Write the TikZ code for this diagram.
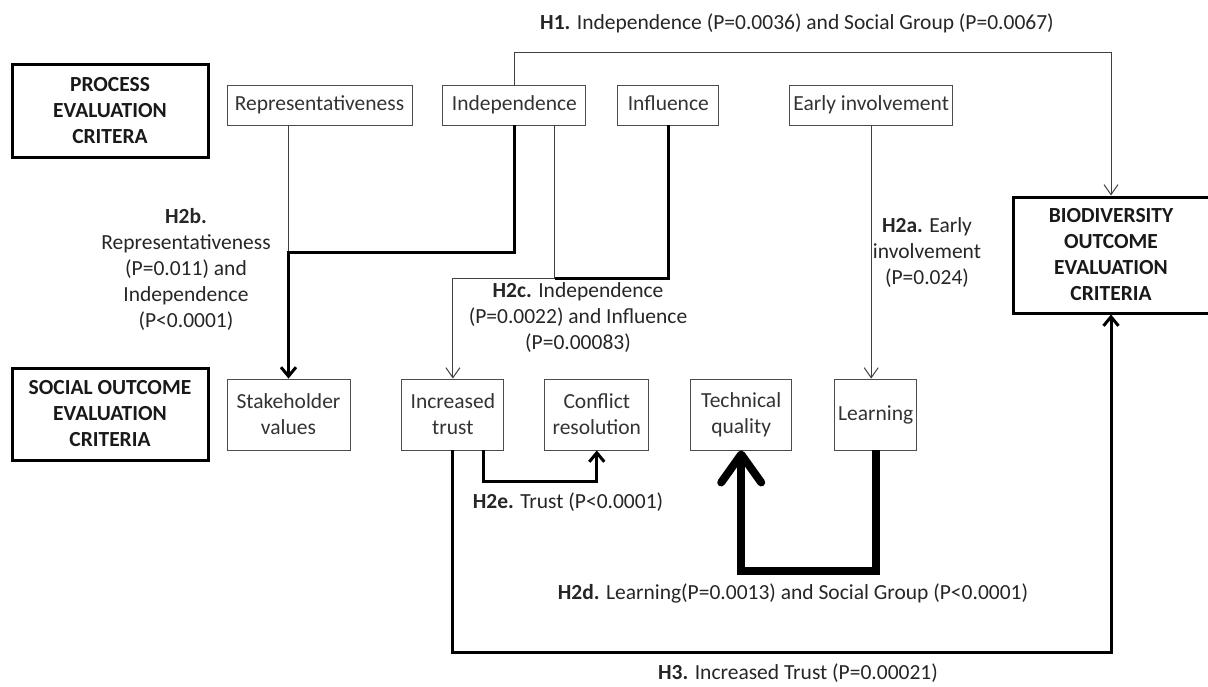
\documentclass[tikz,border=0pt]{standalone}
\usepackage{fontspec}
\setmainfont{Carlito}
\usetikzlibrary{positioning, arrows.meta, calc}

\begin{document}
\begin{tikzpicture}[
		x=1pt, y=-1pt,
		% Estilos de texto y cajas
		texto/.style={font=\fontsize{21.5}{26}\selectfont, text=black!80},
		caja_var/.style={texto, draw=black!70, line width=0.9pt, rectangle, inner sep=0pt, align=center},
		caja_fila/.style={caja_var, minimum height=40pt, text height=15pt, text depth=5pt},
		caja_crit/.style={draw=black, line width=3pt, rectangle, inner sep=0pt, align=center, minimum width=196pt, font=\fontsize{21.5}{26}\selectfont\bfseries, text=black!90},
		% Estilos de lineas y flechas
		linea_fina/.style={draw=black!75, line width=1pt},
		linea_gruesa/.style={draw=black, line width=3pt},
		linea_maxima/.style={draw=black, line width=8pt},
		flecha_fina/.style={linea_fina, -{Straight Barb[length=10pt, width=14pt]}},
		flecha_gruesa/.style={linea_gruesa, -{Straight Barb[length=9pt, width=15pt]}},
		flecha_maxima/.style={linea_maxima, -{Straight Barb[length=28pt, width=40pt, round]}},
		label_hip/.style={texto, align=center, inner sep=0pt, text=black!85}
		]
		\useasboundingbox (0,0) rectangle (1208,686);
		
		% --- CRITERIOS (COLUMNA IZQUIERDA Y DERECHA) ---
		\node[caja_crit, minimum height=93pt] (proceso) at (110,110.5) {PROCESS\\EVALUATION\\CRITERA};
		\node[caja_crit, minimum height=92pt] (social) at (110,414) {SOCIAL OUTCOME\\EVALUATION\\CRITERIA};
		\node[caja_crit, minimum height=116pt] (bio) at (1111,255) {BIODIVERSITY\\OUTCOME\\EVALUATION\\CRITERIA};
		
		% --- FILA SUPERIOR: CRITERIOS DE PROCESO ---
		\node[caja_fila, minimum width=185pt] (rep) at (319.5,105) {Representativeness};
		\node[caja_fila, minimum width=143pt, right=30pt of rep] (indep) {Independence};
		\node[caja_fila, minimum width=101pt, right=31pt of indep] (influ) {Influence};
		\node[caja_fila, minimum width=163pt, right=70pt of influ] (early) {Early involvement};
		
		% --- FILA INFERIOR: RESULTADOS SOCIALES ---
		\node[caja_var, minimum width=123pt, minimum height=71pt] (stake) at (288.5,414.5) {Stakeholder\\values};
		\node[caja_var, minimum width=102pt, minimum height=71pt, right=51pt of stake] (trust) {Increased\\trust};
		\node[caja_var, minimum width=104pt, minimum height=71pt, right=40pt of trust] (conflict) {Conflict\\resolution};
		\node[caja_var, minimum width=101pt, minimum height=71pt, right=41pt of conflict] (tech) {Technical\\quality};
		\node[caja_var, minimum width=82pt, minimum height=71pt, right=42pt of tech] (learn) {Learning};
		
		% --- PUNTOS DE UNION ---
		\coordinate (union_b) at (stake.north |- 0,252);
		\coordinate (indep_b) at ($(indep.south)+(40.5,0)$);
		\coordinate (union_c) at (indep_b |- 0,278);
		
		% --- CONEXIONES ---
		% H1
		\draw[flecha_fina] (indep.north) -- ++(0,-32) -| (bio.north);
		% H2b
		\draw[linea_fina] (stake.north |- rep.south) -- (union_b);
		\draw[flecha_gruesa] (indep.south) |- (union_b) -- (stake.north);
		% H2c
		\draw[linea_fina] (indep_b) -- (union_c);
		\draw[linea_gruesa] (influ.south) |- (union_c);
		\draw[flecha_fina] (union_c) -| (trust.north);
		% H2a
		\draw[flecha_fina] (early.south) -- (early.south |- learn.north);
		% H2e
		\draw[flecha_gruesa] ($(trust.south)+(31,0)$) -- ++(0,31) -| (conflict.south);
		% H2d
		\draw[flecha_maxima] (learn.south) -- ++(0,121) -| (tech.south);
		% H3
		\draw[flecha_gruesa] (trust.south) -- ++(0,202) -| (bio.south);
		
		% --- ETIQUETAS DE HIPOTESIS ---
		\node[label_hip] (h1) at (797,23) {\textbf{H1.} Independence (P=0.0036) and Social Group (P=0.0067)};
		\node[label_hip] (h2b) at (186,269.5) {\textbf{H2b.}\\Representativeness\\(P=0.011) and\\Independence\\(P<0.0001)};
		\node[label_hip] (h2c) at (578,317.5) {\textbf{H2c.} Independence\\(P=0.0022) and Influence\\(P=0.00083)};
		\node[label_hip] (h2a) at (927,253) {\textbf{H2a.} Early\\involvement\\(P=0.024)};
		\node[label_hip] (h2e) at (568,502) {\textbf{H2e.} Trust (P<0.0001)};
		\node[label_hip] (h2d) at (793,593) {\textbf{H2d.} Learning(P=0.0013) and Social Group (P<0.0001)};
		\node[label_hip] (h3) at (798,673) {\textbf{H3.} Increased Trust (P=0.00021)};
		
	\end{tikzpicture}
\end{document}
